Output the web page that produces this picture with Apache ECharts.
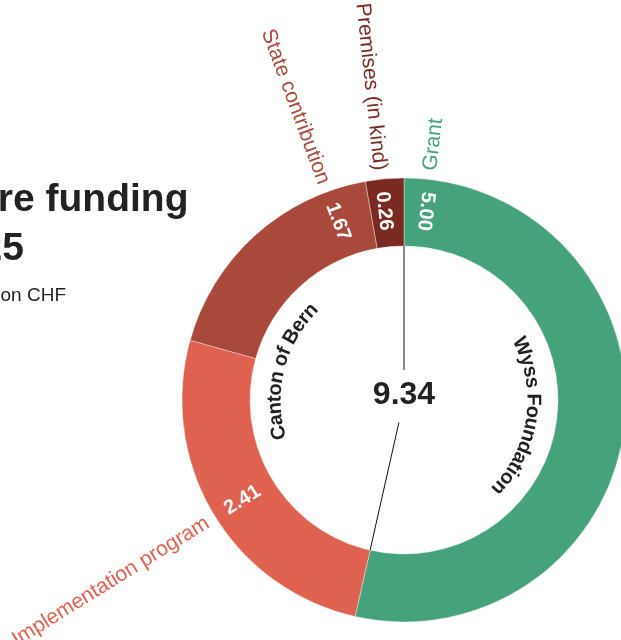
<!DOCTYPE html>
<html><head><meta charset="utf-8">
<style>html,body{margin:0;padding:0;background:#fff;overflow:hidden}#c{width:621px;height:640px}</style>
<script src="https://cdn.jsdelivr.net/npm/echarts@6/dist/echarts.min.js"></script>
</head><body><div id="c"></div>
<script>
// ---- data ----
const categories = ['Grant', 'Implementation program', 'State contribution', 'Premises (in kind)'];
const values = [5.00, 2.41, 1.67, 0.26];
const groups = ['Wyss Foundation', 'Canton of Bern'];
const groupMembers = [[0], [1, 2, 3]];
const titleLines = ['Nature funding', '2021–2025'];
const subtitle = 'in million CHF';

// ---- layout / style ----
const colors = ['#45a27b', '#df6150', '#a8493b', '#7b2a21'];
const CX = 404, CY = 400, R0 = 154, R1 = 222;
const labelFrac = [0.034, 0.49, 0.84, 0.4];   // where in each slice its labels sit
const groupAngleShift = [2, 8];               // degrees
const FONT = '"Liberation Sans", Arial, Helvetica, sans-serif';
const INK = '#222222';

const total = values.reduce((a, b) => a + b, 0);
const segs = [];
let cum = 0;
values.forEach(v => { segs.push([cum / total * 360, (cum + v) / total * 360]); cum += v; });
const rad = d => d * Math.PI / 180;
const pt = (deg, r) => [CX + r * Math.sin(rad(deg)), CY - r * Math.cos(rad(deg))];

const g = [];
const txt = (x, y, rot, text, fill, font, align) => g.push({type: 'text', x, y, rotation: rot, z: 100, silent: true,
  style: {text, fill, font, align, textAlign: align, verticalAlign: 'middle', textVerticalAlign: 'middle'}});

// titles
const tys = [200, 249];
const txs = [188.5, 24];
titleLines.forEach((t, i) => txt(txs[i], tys[i], 0, t, INK, `bold 39px ${FONT}`, 'right'));
txt(66, 296, 0, subtitle, INK, `19px ${FONT}`, 'right');

// value + outer labels
categories.forEach((c, i) => {
  const a = segs[i][0] + (segs[i][1] - segs[i][0]) * labelFrac[i];
  const [vx, vy] = pt(a, 190);
  txt(vx, vy, rad(270 - a), values[i].toFixed(2), '#ffffff', `bold 20px ${FONT}`, 'center');
  const [ox, oy] = pt(a, 231);
  const right = a < 180;
  txt(ox, oy, rad(right ? 90 - a : 270 - a), c, colors[i], `21px ${FONT}`, right ? 'left' : 'right');
});

// center total
txt(CX, 395.5, 0, total.toFixed(2), INK, `bold 32px ${FONT}`, 'center');

// leader lines at group boundaries
const gEnd = segs[groupMembers[0][groupMembers[0].length - 1]][1];
[[0, 30], [gEnd, 23]].forEach(([a, rEnd]) => {
  const [x1, y1] = pt(a, R0), [x2, y2] = pt(a, rEnd);
  g.push({type: 'line', z: 100, silent: true, shape: {x1, y1, x2, y2}, style: {stroke: '#111', lineWidth: 1}});
});

// curved group labels
const ctx = document.createElement('canvas').getContext('2d');
const gfont = `bold 20px ${FONT}`;
ctx.font = gfont;
const RT = 129;
groups.forEach((name, gi) => {
  const m = groupMembers[gi];
  const mid = (segs[m[0]][0] + segs[m[m.length - 1]][1]) / 2 + groupAngleShift[gi];
  const W = ctx.measureText(name).width;
  let acc = 0;
  const startDeg = mid - (W / RT) * 180 / Math.PI / 2;
  for (const ch of name) {
    const w = ctx.measureText(ch).width;
    const phi = startDeg + ((acc + w / 2) / RT) * 180 / Math.PI;
    acc += w;
    if (ch === ' ') continue;
    const [x, y] = pt(phi, RT);
    txt(x, y, -rad(phi), ch, INK, gfont, 'center');
  }
});

const chart = echarts.init(document.getElementById('c'), null, {renderer: 'canvas'});
chart.setOption({
  animation: false,
  backgroundColor: '#fff',
  series: [{
    type: 'pie', center: [CX, CY], radius: [R0, R1], startAngle: 90, clockwise: true, z: 2,
    silent: true, label: {show: false}, labelLine: {show: false},
    itemStyle: {borderColor: 'rgba(255,255,255,0.6)', borderWidth: 0.6},
    data: categories.map((c, i) => ({name: c, value: values[i], itemStyle: {color: colors[i]}}))
  }],
  graphic: {elements: g}
});
</script></body></html>
